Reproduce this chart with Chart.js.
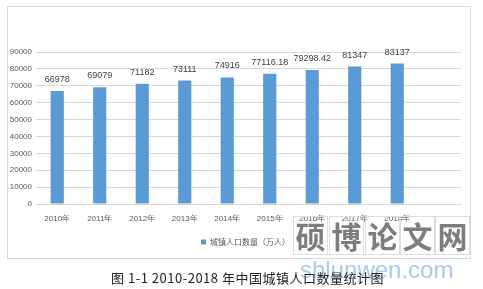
<!DOCTYPE html>
<html lang="zh">
<head>
  <meta charset="UTF-8" />
  <title>2010-2018年中国城镇人口数量统计图</title>
  <script src="https://cdn.jsdelivr.net/npm/chart.js"></script>
  <style>
    html, body { margin: 0; padding: 0; background: #fff; }
    body { width: 483px; height: 289px; position: relative; overflow: hidden; }
    #frame { position: absolute; left: 7px; top: 6px; width: 462px; height: 251px; border: 1px solid #d9d9d9; }
    #chartWrap { position: absolute; left: 0; top: 0; width: 483px; height: 289px; }
    #caption { position: absolute; left: 0; width: 495px; top: 268px; text-align: center;
      font: 13px "Noto Sans CJK SC", serif; color: #222; letter-spacing: 0.5px; }
    .wm { position: absolute; top: 216px; width: 33px; height: 37px; border: 1px solid #ddd;
      font: bold 30px "Noto Sans CJK SC"; color: #7d7d7d; text-align: center; line-height: 37px; }
    #wmUrl { position: absolute; left: 300px; top: 256px; font: 24px "Liberation Sans", sans-serif;
      color: #a9cbeb; }
  </style>
</head>
<body>
  <div id="frame"></div>
  <div id="chartWrap"><canvas id="popChart" width="483" height="289"></canvas></div>
  <div class="wm" style="left:293px">硕</div>
  <div class="wm" style="left:329px">博</div>
  <div class="wm" style="left:365px">论</div>
  <div class="wm" style="left:400px">文</div>
  <div class="wm" style="left:435px">网</div>
  <div id="wmUrl">shlunwen.com</div>
  <div id="caption">图 1-1 2010-2018 年中国城镇人口数量统计图</div>

  <script>
    // 数据
    const years = ['2010年', '2011年', '2012年', '2013年', '2014年', '2015年', '2016年', '2017年', '2018年', ''];
    const urbanPop = [66978, 69079, 71182, 73111, 74916, 77116.18, 79298.42, 81347, 83137, null];
    const seriesName = '城镇人口数量（万人）';

    const tickFont = { family: '"Liberation Sans Narrow", "Liberation Sans", sans-serif', size: 8 };

    // 柱顶数值标签
    const valueLabels = {
      id: 'valueLabels',
      afterDatasetsDraw(chart) {
        const ctx = chart.ctx;
        const meta = chart.getDatasetMeta(0);
        ctx.save();
        ctx.font = '9px "Liberation Sans Narrow", "Liberation Sans", sans-serif';
        ctx.fillStyle = '#404040';
        ctx.textAlign = 'center';
        ctx.textBaseline = 'bottom';
        meta.data.forEach((bar, i) => {
          if (urbanPop[i] == null) return;
          ctx.fillText(String(urbanPop[i]), bar.x, bar.y - 7);
        });
        ctx.restore();
      }
    };

    // 图例稍微右移
    const legendShift = {
      id: 'legendShift',
      afterLayout(chart) {
        const lg = chart.legend;
        if (!lg) return;
        lg.left += 15;
        lg.right += 15;
      }
    };

    new Chart(document.getElementById('popChart'), {
      type: 'bar',
      data: {
        labels: years,
        datasets: [{
          label: seriesName,
          data: urbanPop,
          backgroundColor: '#5b9bd5',
          categoryPercentage: 1,
          barPercentage: 0.31
        }]
      },
      options: {
        responsive: false,
        animation: false,
        layout: { padding: { left: 0, right: 22, top: 52, bottom: 33 } },
        scales: {
          y: {
            min: 0, max: 90000,
            ticks: { stepSize: 10000, color: '#595959', font: tickFont, padding: 4,
              callback: v => String(v) },
            grid: { color: '#d9d9d9', drawTicks: false },
            border: { display: false },
            afterFit(s) { s.width = 36; }
          },
          x: {
            ticks: { color: '#595959', font: tickFont, padding: 2, maxRotation: 0 },
            grid: { display: false },
            border: { color: '#d9d9d9' },
            afterFit(s) { s.height = 28; }
          }
        },
        plugins: {
          legend: {
            position: 'bottom',
            labels: { boxWidth: 5, boxHeight: 5, padding: 6, color: '#595959',
              font: { family: '"Noto Sans CJK SC", sans-serif', size: 8 } }
          },
          tooltip: { enabled: false }
        }
      },
      plugins: [valueLabels, legendShift]
    });
  </script>
</body>
</html>
